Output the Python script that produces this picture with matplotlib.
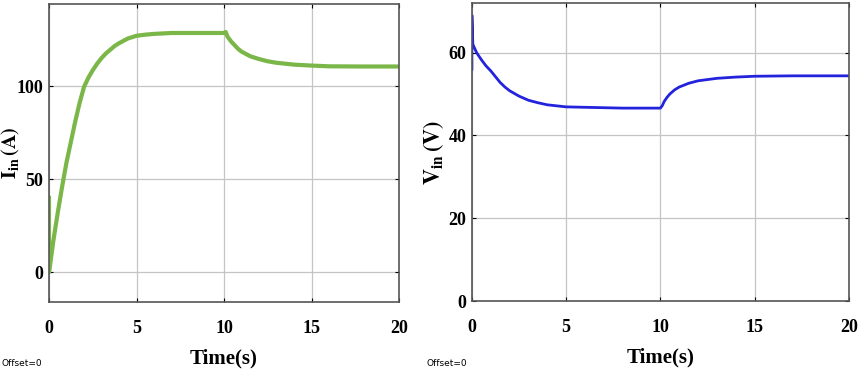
import matplotlib
import matplotlib.pyplot as plt

matplotlib.use("Agg")

plt.rcParams["font.family"] = "Liberation Serif"
plt.rcParams["mathtext.fontset"] = "stix"

# input current I_in (A)
t_cur = [0, 0, 0.05, 0.25, 0.5, 0.75, 1.0, 1.25, 1.5, 1.75, 2.0, 2.25, 2.5, 2.75,
         3.0, 3.25, 3.5, 3.75, 4.0, 4.5, 5.0, 5.5, 6.0, 7.0, 8.0, 9.0, 10.0, 10.1,
         10.2, 10.4, 10.6, 10.8, 11.0, 11.5, 12.0, 12.5, 13.0, 14.0, 15.0, 16.0,
         18.0, 20.0]
i_in = [40, 0, 3, 17, 32, 46, 59, 70, 81, 91, 99.5, 104.5, 108.5, 112,
        115, 117.5, 119.5, 121.5, 123, 125.5, 127, 127.6, 128, 128.5, 128.5, 128.5,
        128.5, 129, 126.5, 124, 122, 120, 118.5, 116, 114.5, 113.3, 112.5, 111.5,
        111, 110.6, 110.5, 110.5]

# input voltage V_in (V)
t_vol = [0, 0, 0.05, 0.25, 0.5, 0.75, 1.0, 1.25, 1.5, 1.75, 2.0, 2.5, 3.0, 3.5,
         4.0, 5.0, 6.0, 8.0, 10.0, 10.1, 10.2, 10.35, 10.5, 10.75, 11.0, 11.5,
         12.0, 12.5, 13.0, 14.0, 15.0, 17.0, 20.0]
v_in = [56, 69, 62, 60, 58.3, 56.8, 55.6, 54.2, 52.8, 51.7, 50.8, 49.5, 48.5,
        47.9, 47.4, 46.9, 46.8, 46.6, 46.6, 47.2, 48.2, 49.2, 50.0, 51.0, 51.7,
        52.6, 53.2, 53.5, 53.8, 54.1, 54.3, 54.4, 54.4]

x_ticks = [0, 5, 10, 15, 20]

fig = plt.figure(figsize=(8.58, 3.73), dpi=100)
ax1 = fig.add_axes([0.0571, 0.190, 0.408, 0.799])
ax2 = fig.add_axes([0.550, 0.193, 0.4394, 0.799])

ax1.plot(t_cur, i_in, color="#7ab648", lw=3)
ax1.set_ylim(-16, 144)
ax1.set_yticks([0, 50, 100])
ax1.set_ylabel(r"$\mathbf{I_{in}\,(A)}$", fontsize=14.5)
ax1.yaxis.set_label_coords(-0.078, 0.5)

ax2.plot(t_vol, v_in, color="#2323dd", lw=2)
ax2.set_ylim(0, 72)
ax2.set_yticks([0, 20, 40, 60])
ax2.set_ylabel(r"$\mathbf{V_{in}\,(V)}$", fontsize=16)
ax2.yaxis.set_label_coords(-0.07, 0.5)

for ax in (ax1, ax2):
    ax.set_xlim(0, 20)
    ax.set_xticks(x_ticks)
    ax.grid(True, color="#c4c4c4", lw=0.9)
    ax.tick_params(direction="in", length=3, top=True, right=True, labelsize=13)
    ax.tick_params(axis="x", pad=13)
    ax.tick_params(axis="y", pad=4)
    for lbl in ax.get_xticklabels() + ax.get_yticklabels():
        lbl.set_fontweight("bold")
    for sp in ax.spines.values():
        sp.set_color("#555555")
        sp.set_linewidth(1.2)
    ax.set_xlabel("Time(s)", fontsize=15, fontweight="bold", labelpad=8)

fig.text(0.002, 0.018, "Offset=0", fontsize=6.5, family="DejaVu Sans")
fig.text(0.497, 0.018, "Offset=0", fontsize=6.5, family="DejaVu Sans")

fig.savefig("out.png", dpi=100)
